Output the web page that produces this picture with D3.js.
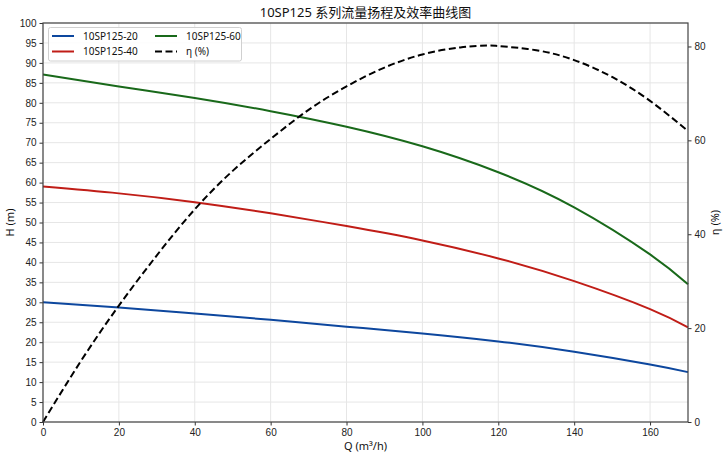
<html>
<head>
  <style>
    body { margin: 0; background: #fff; }
    svg { font-family: "Noto Sans", "Noto Sans CJK SC", sans-serif; }
    .tick text { font-size: 10px; fill: #222; }
    .tick line { stroke: #333; }
    .domain { stroke: none; }
  </style>
  <script src="https://d3js.org/d3.v7.min.js"></script>
</head>
<body>
  <script type="text/javascript">
  // values
  var flow = [0, 20, 40, 60, 80, 100, 120, 140, 160, 170];
  var head20 = [30.0, 28.7, 27.2, 25.6, 23.9, 22.2, 20.2, 17.6, 14.4, 12.5];
  var head40 = [59.0, 57.3, 55.1, 52.3, 49.1, 45.5, 41.0, 35.3, 28.3, 23.7];
  var head60 = [87.1, 84.1, 81.2, 77.9, 74.0, 69.1, 62.6, 53.8, 42.0, 34.5];
  var effFlow = [0, 10, 20, 30, 40, 50, 60, 70, 80, 90, 100, 110, 117, 120, 130, 140, 150, 160, 170];
  var eff = [0, 13.0, 24.8, 35.5, 45.3, 53.5, 60.3, 66.5, 71.5, 75.5, 78.3, 79.8, 80.2, 80.1, 79.2, 77.1, 73.5, 68.4, 62.0];
  var seriesNames = ["10SP125-20", "10SP125-40", "10SP125-60"];
  var seriesColors = ["#0d479e", "#c01d17", "#19691a"];
  var xTicks = [0, 20, 40, 60, 80, 100, 120, 140, 160];
  var hTicks = d3.range(0, 101, 5);
  var effTicks = [0, 20, 40, 60, 80];

  var screen = {width: 726, height: 459};
  var margin = {top: 23, right: 38, bottom: 37, left: 43};
  var w = screen.width - margin.left - margin.right;
  var h = screen.height - margin.top - margin.bottom;

  var xScale = d3.scaleLinear().domain([0, 170]).range([margin.left, margin.left + w]);
  var yScale = d3.scaleLinear().domain([0, 100]).range([margin.top + h, margin.top]);
  var y2Scale = d3.scaleLinear().domain([0, 85]).range([margin.top + h, margin.top]);

  var svg = d3.select("body").append("svg")
    .attr("width", screen.width)
    .attr("height", screen.height);

  // grid
  svg.append("g").selectAll("line.hg")
    .data(hTicks)
    .enter().append("line")
    .attr("x1", margin.left).attr("x2", margin.left + w)
    .attr("y1", function(d){ return yScale(d); })
    .attr("y2", function(d){ return yScale(d); })
    .style("stroke", "#e6e6e6").attr("stroke-width", 1);

  svg.append("g").selectAll("line.vg")
    .data(xTicks)
    .enter().append("line")
    .attr("y1", margin.top).attr("y2", margin.top + h)
    .attr("x1", function(d){ return xScale(d); })
    .attr("x2", function(d){ return xScale(d); })
    .style("stroke", "#e6e6e6").attr("stroke-width", 1);

  // curves
  var heads = [head20, head40, head60];
  var line = d3.line()
    .x(function(d){ return xScale(d[0]); })
    .y(function(d){ return yScale(d[1]); })
    .curve(d3.curveNatural);

  heads.forEach(function(vals, i){
    svg.append("path")
      .datum(d3.zip(flow, vals))
      .attr("d", line)
      .attr("fill", "none")
      .attr("stroke", seriesColors[i])
      .attr("stroke-width", 2);
  });

  var effLine = d3.line()
    .x(function(d){ return xScale(d[0]); })
    .y(function(d){ return y2Scale(d[1]); })
    .curve(d3.curveNatural);

  svg.append("path")
    .datum(d3.zip(effFlow, eff))
    .attr("d", effLine)
    .attr("fill", "none")
    .attr("stroke", "#000")
    .attr("stroke-width", 2)
    .attr("stroke-dasharray", "7,3.5");

  // axes
  svg.append("g")
    .attr("transform", "translate(0," + (margin.top + h) + ")")
    .call(d3.axisBottom(xScale).tickValues(xTicks).tickSize(3.5).tickPadding(3));

  svg.append("g")
    .attr("transform", "translate(" + margin.left + ",0)")
    .call(d3.axisLeft(yScale).tickValues(hTicks).tickSize(3.5).tickPadding(3));

  svg.append("g")
    .attr("transform", "translate(" + (margin.left + w) + ",0)")
    .call(d3.axisRight(y2Scale).tickValues(effTicks).tickSize(3.5).tickPadding(3));

  // frame
  svg.append("rect")
    .attr("x", margin.left).attr("y", margin.top)
    .attr("width", w).attr("height", h)
    .attr("fill", "none")
    .style("stroke", "#444").attr("stroke-width", 1.2);

  // labels
  svg.append("text")
    .attr("x", margin.left + w / 2).attr("y", 17)
    .attr("text-anchor", "middle")
    .style("font-size", "13px").style("fill", "#111")
    .text("10SP125 系列流量扬程及效率曲线图");

  svg.append("text")
    .attr("x", margin.left + w / 2).attr("y", 450)
    .attr("text-anchor", "middle")
    .style("font-size", "11px").style("fill", "#111")
    .text("Q (m³/h)");

  svg.append("text")
    .attr("transform", "translate(14," + (margin.top + h / 2) + ") rotate(-90)")
    .attr("text-anchor", "middle")
    .style("font-size", "11px").style("fill", "#111")
    .text("H (m)");

  svg.append("text")
    .attr("transform", "translate(719," + (margin.top + h / 2) + ") rotate(-90)")
    .attr("text-anchor", "middle")
    .style("font-size", "11px").style("fill", "#111")
    .text("η (%)");

  // legend
  var legend = svg.append("g");
  legend.append("rect")
    .attr("x", 48.5).attr("y", 27.5)
    .attr("width", 193).attr("height", 33.5)
    .attr("rx", 2)
    .attr("fill", "rgba(255,255,255,0.85)")
    .style("stroke", "#d0d0d0").attr("stroke-width", 1);

  var legendItems = [
    {name: seriesNames[0], color: seriesColors[0], dash: null, x: 52, y: 36},
    {name: seriesNames[1], color: seriesColors[1], dash: null, x: 52, y: 51.5},
    {name: seriesNames[2], color: seriesColors[2], dash: null, x: 155, y: 36},
    {name: "η (%)", color: "#000", dash: "7,3.5", x: 155, y: 51.5}
  ];

  legendItems.forEach(function(d){
    legend.append("line")
      .attr("x1", d.x).attr("x2", d.x + 22)
      .attr("y1", d.y).attr("y2", d.y)
      .attr("stroke", d.color).attr("stroke-width", 2)
      .attr("stroke-dasharray", d.dash);
    legend.append("text")
      .attr("x", d.x + 31).attr("y", d.y + 3.5)
      .style("font-size", "10px").style("fill", "#111")
      .text(d.name);
  });
  </script>
</body>
</html>
